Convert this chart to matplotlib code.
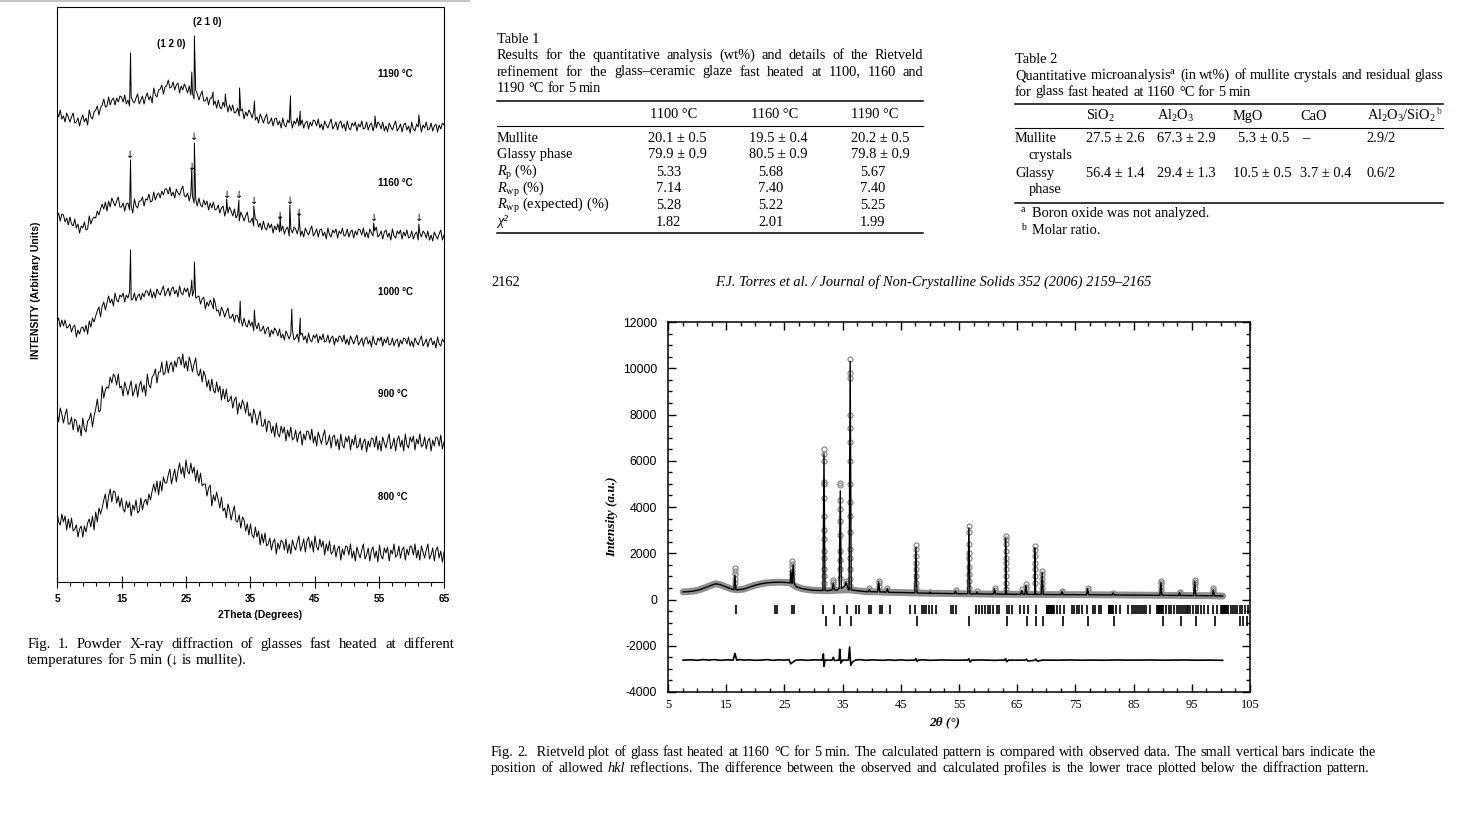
import numpy as np
import matplotlib
matplotlib.use('Agg')
import matplotlib.pyplot as plt
from matplotlib.ticker import FixedLocator, MultipleLocator

plt.rcParams['mathtext.fontset'] = 'custom'
plt.rcParams['mathtext.rm'] = 'Liberation Serif'
plt.rcParams['mathtext.it'] = 'Liberation Serif:italic'
plt.rcParams['mathtext.bf'] = 'Liberation Serif:bold'
plt.rcParams['axes.unicode_minus'] = False

SERIF = ['Liberation Serif', 'DejaVu Serif']
SANS = ['Liberation Sans', 'DejaVu Sans']
FS = 10.4  # body text size

# ---------------- Fig. 1 : XRD patterns (height above axis, arbitrary units) ----
# one row = 5 degrees, step 0.25 deg
theta1 = np.arange(5, 65.001, 0.25)
trace_1190 = [
    470, 465, 472, 463, 466, 460, 469, 465, 460, 465, 469, 459, 460, 464, 456, 463, 467, 460, 464, 457,
    472, 465, 463, 470, 472, 476, 467, 474, 477, 483, 475, 476, 485, 477, 482, 484, 477, 484, 480, 486,
    485, 480, 487, 478, 482, 476, 485, 481, 479, 484, 488, 478, 482, 486, 478, 485, 489, 482, 486, 479,
    494, 487, 485, 492, 493, 497, 488, 495, 496, 502, 494, 495, 500, 492, 497, 499, 489, 496, 492, 498,
    494, 489, 496, 487, 489, 483, 492, 488, 482, 487, 491, 481, 481, 485, 477, 484, 484, 477, 481, 474,
    482, 475, 473, 480, 475, 479, 470, 477, 471, 477, 469, 470, 474, 466, 471, 473, 463, 470, 466, 472,
    469, 464, 471, 462, 465, 459, 468, 464, 459, 464, 468, 458, 460, 464, 456, 463, 464, 457, 461, 454,
    464, 457, 455, 462, 459, 463, 454, 461, 458, 464, 456, 457, 462, 454, 459, 461, 453, 460, 456, 462,
    461, 456, 463, 454, 458, 452, 461, 457, 454, 459, 463, 453, 456, 460, 452, 459, 461, 454, 458, 451,
    461, 454, 452, 459, 456, 460, 451, 458, 455, 461, 453, 454, 460, 452, 457, 459, 451, 458, 454, 460,
    458, 453, 460, 451, 456, 450, 459, 455, 452, 457, 461, 451, 454, 458, 450, 457, 459, 452, 456, 449,
    460, 453, 451, 458, 455, 459, 450, 457, 454, 460, 452, 453, 459, 451, 456, 458, 450, 457, 453, 459,
    457]
trace_1160 = [
    365, 369, 361, 368, 367, 360, 364, 357, 365, 358, 356, 363, 354, 358, 349, 356, 354, 360, 352, 353,
    366, 358, 363, 365, 364, 371, 367, 373, 378, 373, 380, 371, 381, 375, 384, 380, 376, 381, 385, 375,
    375, 379, 371, 378, 379, 372, 376, 369, 383, 376, 374, 381, 381, 385, 376, 383, 382, 388, 380, 381,
    390, 382, 387, 389, 384, 391, 387, 393, 393, 388, 395, 386, 390, 384, 393, 389, 387, 392, 396, 386,
    385, 389, 381, 388, 386, 379, 383, 376, 384, 377, 375, 382, 377, 381, 372, 379, 374, 380, 372, 373,
    377, 369, 374, 376, 366, 373, 369, 375, 371, 366, 373, 364, 367, 361, 370, 366, 361, 366, 370, 360,
    360, 364, 356, 363, 362, 355, 359, 352, 361, 354, 352, 359, 354, 358, 349, 356, 352, 358, 350, 351,
    356, 348, 353, 355, 346, 353, 349, 355, 353, 348, 355, 346, 351, 345, 354, 350, 347, 352, 356, 346,
    349, 353, 345, 352, 353, 346, 350, 343, 354, 347, 345, 352, 349, 353, 344, 351, 348, 354, 346, 347,
    353, 345, 350, 352, 344, 351, 347, 353, 352, 347, 354, 345, 350, 344, 353, 349, 346, 351, 355, 345,
    347, 351, 343, 350, 352, 345, 349, 342, 353, 346, 344, 351, 348, 352, 343, 350, 346, 352, 344, 345,
    351, 343, 348, 350, 342, 349, 345, 351, 349, 344, 351, 342, 347, 341, 350, 346, 343, 348, 352, 342,
    347]
trace_1000 = [
    260, 264, 255, 262, 256, 262, 254, 255, 258, 250, 255, 257, 245, 252, 248, 254, 255, 250, 257, 248,
    261, 255, 264, 260, 266, 271, 275, 265, 276, 280, 272, 279, 286, 279, 283, 276, 289, 282, 280, 287,
    285, 289, 280, 287, 284, 290, 282, 283, 289, 281, 286, 288, 282, 289, 285, 291, 291, 286, 293, 284,
    290, 284, 293, 289, 287, 292, 296, 286, 290, 294, 286, 293, 295, 288, 292, 285, 296, 289, 287, 294,
    290, 294, 285, 292, 286, 292, 284, 285, 286, 278, 283, 285, 273, 280, 276, 282, 278, 273, 280, 271,
    272, 266, 275, 271, 265, 270, 274, 264, 264, 268, 260, 267, 266, 259, 263, 256, 264, 257, 255, 262,
    256, 260, 251, 258, 253, 259, 251, 252, 256, 248, 253, 255, 245, 252, 248, 254, 251, 246, 253, 244,
    248, 242, 251, 247, 243, 248, 252, 242, 244, 248, 240, 247, 249, 242, 246, 239, 249, 242, 240, 247,
    244, 248, 239, 246, 242, 248, 240, 241, 247, 239, 244, 246, 237, 244, 240, 246, 245, 240, 247, 238,
    243, 237, 246, 242, 238, 243, 247, 237, 240, 244, 236, 243, 245, 238, 242, 235, 246, 239, 237, 244,
    241, 245, 236, 243, 239, 245, 237, 238, 244, 236, 241, 243, 235, 242, 238, 244, 243, 238, 245, 236,
    241, 235, 244, 240, 237, 242, 246, 236, 239, 243, 235, 242, 244, 237, 241, 234, 245, 238, 236, 243,
    240]
trace_900 = [
    170, 160, 174, 168, 159, 167, 173, 158, 158, 165, 152, 163, 161, 150, 157, 146, 164, 153, 150, 161,
    163, 169, 155, 166, 173, 183, 170, 172, 196, 184, 192, 195, 194, 205, 199, 208, 205, 197, 208, 194,
    196, 186, 200, 194, 187, 195, 201, 186, 191, 198, 185, 196, 201, 190, 197, 186, 208, 197, 194, 205,
    207, 213, 199, 210, 210, 220, 207, 209, 221, 209, 217, 220, 210, 221, 215, 224, 225, 217, 228, 214,
    221, 211, 225, 219, 210, 218, 224, 209, 206, 213, 200, 211, 206, 195, 202, 191, 203, 192, 189, 200,
    190, 196, 182, 193, 183, 193, 180, 182, 186, 174, 182, 185, 168, 179, 173, 182, 177, 169, 180, 166,
    169, 159, 173, 167, 157, 165, 171, 156, 156, 163, 150, 161, 160, 149, 156, 145, 159, 148, 145, 156,
    149, 155, 141, 152, 145, 155, 142, 144, 152, 140, 148, 151, 137, 148, 142, 151, 150, 142, 153, 139,
    146, 136, 150, 144, 138, 146, 152, 137, 140, 147, 134, 145, 147, 136, 143, 132, 148, 137, 134, 145,
    140, 146, 132, 143, 137, 147, 134, 136, 144, 132, 140, 143, 130, 141, 135, 144, 143, 135, 146, 132,
    141, 131, 145, 139, 134, 142, 148, 133, 137, 144, 131, 142, 146, 135, 142, 131, 148, 137, 134, 145,
    140, 146, 132, 143, 138, 148, 135, 137, 145, 133, 141, 144, 131, 142, 136, 145, 144, 136, 147, 133,
    140]
trace_800 = [
    71, 60, 57, 68, 60, 66, 52, 63, 54, 64, 51, 53, 57, 45, 53, 56, 45, 56, 50, 59,
    63, 55, 66, 52, 70, 60, 74, 68, 74, 82, 88, 73, 86, 93, 80, 91, 90, 79, 86, 75,
    84, 73, 70, 81, 74, 80, 66, 77, 72, 82, 69, 71, 84, 72, 80, 83, 77, 88, 82, 91,
    98, 90, 101, 87, 101, 91, 105, 99, 99, 107, 113, 98, 106, 113, 100, 111, 119, 108, 115, 104,
    122, 111, 108, 119, 109, 115, 101, 112, 99, 109, 96, 98, 98, 86, 94, 97, 76, 87, 81, 90,
    82, 74, 85, 71, 74, 64, 78, 72, 62, 70, 76, 61, 60, 67, 54, 65, 62, 51, 58, 47,
    58, 47, 44, 55, 45, 51, 37, 48, 39, 49, 36, 38, 44, 32, 40, 43, 28, 39, 33, 42,
    40, 32, 43, 29, 38, 28, 42, 36, 32, 40, 46, 31, 36, 43, 30, 41, 45, 34, 41, 30,
    46, 35, 32, 43, 35, 41, 27, 38, 31, 41, 28, 30, 37, 25, 33, 36, 22, 33, 27, 36,
    35, 27, 38, 24, 31, 21, 35, 29, 24, 32, 38, 23, 27, 34, 21, 32, 35, 24, 31, 20,
    37, 26, 23, 34, 29, 35, 21, 32, 28, 38, 25, 27, 36, 24, 32, 35, 22, 33, 27, 36,
    35, 27, 38, 24, 32, 22, 36, 30, 24, 32, 38, 23, 27, 34, 21, 32, 35, 24, 31, 20,
    30]

peaks_1190_pos = [16.4, 25.9, 26.3, 29.2, 31.1, 33.3, 35.6, 41.2, 42.7, 54.3, 61.1]
peaks_1190_top = [529, 510, 546, 490, 488, 494, 481, 486, 471, 466, 467]
peaks_1160_pos = [16.4, 25.9, 26.3, 31.3, 33.2, 35.5, 39.6, 41.1, 42.5, 54.1, 61.1]
peaks_1160_top = [422, 414, 439, 383, 382, 376, 366, 377, 369, 359, 358]
peaks_1000_pos = [16.4, 25.9, 26.3, 29.3, 33.4, 35.6, 41.4, 42.7]
peaks_1000_top = [332, 302, 320, 284, 281, 272, 273, 264]

arrows_1160_pos = [16.4, 25.9, 26.3, 31.3, 33.2, 35.5, 39.6, 41.1, 42.5, 54.1, 61.1]
arrows_1160_y = [427, 415, 445, 387, 387, 381, 366, 381, 369, 364, 364]

temp_labels = ['1190 °C', '1160 °C', '1000 °C', '900 °C', '800 °C']

# ---------------- Fig. 2 : Rietveld plot -----------------------------------
riet_bg_x = [7.6, 8.5, 9.5, 10.5, 11.5, 12.5, 13.2, 14.0, 15.0, 16.0, 17.0, 18.0, 19.0,
             20.0, 21.0, 22.0, 23.0, 24.0, 25.0, 26.0, 27.0, 28.0, 29.0, 30.0, 31.0,
             32.5, 34.0, 36.0, 37.5, 39.0, 41.0, 43.0, 45.0, 48.0, 50.0, 53.0, 55.0,
             58.0, 60.0, 63.0, 65.0, 68.0, 70.0, 73.0, 75.0, 78.0, 80.0, 83.0, 85.0,
             88.0, 90.0, 93.0, 95.0, 98.0, 100.3]
riet_bg_y = [330, 340, 370, 430, 520, 620, 680, 640, 540, 450, 420, 450, 540,
             620, 680, 720, 740, 750, 740, 720, 560, 470, 430, 400, 390,
             380, 400, 420, 380, 340, 330, 310, 300, 280, 270, 260, 250,
             240, 235, 230, 225, 220, 215, 210, 210, 205, 200, 195, 190,
             185, 180, 175, 170, 165, 150]

riet_pk_pos = [16.5, 26.1, 26.5, 31.8, 33.4, 34.6, 35.6, 36.3, 39.6, 41.2, 42.7, 47.6,
               50.0, 54.4, 56.7, 58.1, 61.1, 63.0, 65.8, 66.5, 68.0, 69.3, 72.7, 77.1,
               81.5, 89.7, 92.9, 95.5, 98.7]
riet_pk_base = [420, 720, 700, 390, 420, 480, 600, 420, 340, 330, 320, 290,
                270, 255, 248, 245, 238, 232, 228, 225, 222, 220, 212, 205,
                197, 182, 176, 170, 160]
riet_pk_calc = [1050, 1250, 1500, 6300, 700, 4700, 750, 10300, 420, 760, 460, 2250,
                320, 360, 3100, 330, 460, 2650, 400, 600, 2250, 1150, 340, 470,
                280, 740, 300, 780, 420]
obs_peak_points = {
    16.5: [1380, 1250, 1100, 900, 700],
    26.3: [1650, 1550, 1400, 1250, 1100, 900],
    31.8: [6500, 6300, 6000, 5100, 5000, 4400, 3600, 3000, 2600, 2100, 1800, 1300, 1000, 700],
    33.4: [850, 750, 650],
    34.6: [5050, 4950, 4300, 3900, 3400, 2800, 2100, 1700, 1300, 950],
    35.6: [800, 700],
    36.3: [10400, 9800, 9600, 8000, 7400, 6800, 6000, 5000, 4200, 3600, 2900, 2200,
           1800, 1300, 900, 600],
    39.6: [480, 420],
    41.2: [800, 720, 600],
    42.7: [500, 420],
    47.6: [2350, 2200, 1900, 1600, 1300, 1000, 700, 500],
    50.0: [330],
    54.4: [400, 330],
    56.7: [3200, 2900, 2400, 2000, 1800, 1400, 1100, 800, 500],
    58.1: [350],
    61.1: [480, 400],
    63.0: [2750, 2600, 2400, 2100, 1800, 1600, 1300, 1000, 700, 450],
    65.8: [440],
    66.5: [650, 550, 450],
    68.0: [2300, 2150, 1900, 1600, 1300, 1000, 700],
    69.3: [1250, 1100, 900, 700, 500],
    72.7: [380, 330],
    77.1: [500, 420],
    81.5: [300],
    89.7: [800, 700, 550, 400],
    92.9: [330, 280],
    95.5: [850, 750, 650, 500],
    98.7: [480, 400, 330],
}

hkl_row1 = [16.7, 23.4, 23.8, 26.3, 26.6, 31.6, 33.5, 35.8, 37.3, 37.9, 39.6, 39.8,
            41.4, 41.7, 43.1, 46.6, 47.4, 48.6, 49.0, 49.4, 49.9, 50.3, 51.0,
            53.6, 54.0, 54.4, 57.9, 58.5, 58.9, 59.5, 59.9, 60.3, 60.9, 61.5, 61.9,
            63.2, 63.6, 64.1, 65.5, 66.1, 66.9, 68.2,
            70.1, 70.2, 70.35, 70.5, 70.6, 70.75, 70.9, 71.0, 71.15, 71.3,
            71.9, 72.4, 73.1, 74.4, 74.8, 75.2, 75.7, 76.1, 77.0, 78.0, 78.4, 79.0, 79.4,
            80.7, 80.85, 81.0, 81.15, 81.3, 81.5, 81.9, 82.7,
            84.1, 84.7, 85.1, 85.4, 85.8, 86.1, 86.5, 86.8, 87.2, 87.8,
            89.0, 89.15, 89.3, 89.45, 89.6, 89.75, 89.9, 90.1,
            90.5, 91.0, 91.5, 91.9, 92.4, 92.8, 93.1, 93.5, 93.8, 94.1, 94.4, 94.7,
            95.2, 95.7, 96.1, 96.6, 97.1, 97.7, 98.7, 99.4,
            100.1, 100.25, 100.4, 100.55, 100.7, 100.85, 101.0,
            101.3, 101.7, 102.0, 102.4, 102.8, 103.3, 103.7, 104.1, 104.7]
hkl_row2 = [32.1, 34.6, 36.5, 47.8, 56.7, 63.2, 66.6, 68.2, 69.4, 72.9, 77.2, 81.7,
            90.0, 93.1, 95.7, 99.0, 103.3, 103.8, 104.4]

diff_x = [7.6, 9, 10, 11, 12, 13, 14, 15, 16.2, 16.5, 16.8, 17.5, 18, 19, 20, 21, 22, 23,
          24, 25, 25.8, 26.1, 26.5, 27, 28, 29, 30, 31.5, 31.7, 31.8, 32.0, 33.2, 33.4,
          33.6, 34.4, 34.5, 34.7, 35.0, 36.0, 36.2, 36.4, 36.7, 37.2, 38, 39, 40, 41, 42,
          43, 44, 45, 46, 47.4, 47.6, 47.8, 48, 49, 50, 52, 54, 56.5, 56.7, 56.9, 57.2,
          59, 61, 62.8, 63.0, 63.2, 63.5, 65, 66.4, 66.6, 66.8, 68, 68.2, 68.5, 69.3, 70,
          72, 74, 76, 78, 80, 82, 84, 86, 88, 90, 92, 94, 96, 98, 100.3]
diff_y = [-2620, -2610, -2630, -2600, -2620, -2600, -2630, -2610, -2620, -2330, -2620,
          -2600, -2620, -2610, -2630, -2620, -2600, -2630, -2610, -2620, -2600, -2780,
          -2700, -2620, -2610, -2630, -2610, -2620, -2350, -2900, -2620, -2620, -2500,
          -2640, -2620, -2150, -2750, -2620, -2620, -2050, -2850, -2700, -2620, -2600,
          -2630, -2610, -2620, -2630, -2610, -2630, -2610, -2630, -2620, -2560, -2680,
          -2620, -2610, -2630, -2615, -2625, -2620, -2560, -2700, -2620, -2615, -2630,
          -2620, -2560, -2690, -2620, -2625, -2620, -2580, -2660, -2630, -2580, -2670,
          -2620, -2620, -2625, -2615, -2625, -2620, -2625, -2615, -2620, -2620, -2615,
          -2625, -2620, -2615, -2625, -2620, -2630]

# ---------------- Tables ------------------------------------------------------
t1_cols = ['1100 °C', '1160 °C', '1190 °C']
t1_rows = ['Mullite', 'Glassy phase', r'$R_{\rm p}$ (%)', r'$R_{\rm wp}$ (%)',
           r'$R_{\rm wp}$ (expected) (%)', 'χ²']
t1_vals = [['20.1 ± 0.5', '19.5 ± 0.4', '20.2 ± 0.5'],
           ['79.9 ± 0.9', '80.5 ± 0.9', '79.8 ± 0.9'],
           ['5.33', '5.68', '5.67'],
           ['7.14', '7.40', '7.40'],
           ['5.28', '5.22', '5.25'],
           ['1.82', '2.01', '1.99']]
t2_cols = ['SiO$_2$', 'Al$_2$O$_3$', 'MgO', 'CaO', 'Al$_2$O$_3$/SiO$_2$']
t2_rows = [('Mullite', 'crystals'), ('Glassy', 'phase')]
t2_vals = [['27.5 ± 2.6', '67.3 ± 2.9', '5.3 ± 0.5', '–', '2.9/2'],
           ['56.4 ± 1.4', '29.4 ± 1.3', '10.5 ± 0.5', '3.7 ± 0.4', '0.6/2']]

fig = plt.figure(figsize=(14.6, 8.18), dpi=100)
page = fig.add_axes([0, 0, 1, 1])
page.set_xlim(0, 1460)
page.set_ylim(818, 0)
page.axis('off')
rend = fig.canvas.get_renderer()


def line_of(words, x0, y, x1=None, size=FS, color='k'):
    """place words on a baseline, stretched to x1 when given"""
    objs = []
    for w in words:
        txt, st = (w if isinstance(w, tuple) else (w, 'normal'))
        objs.append(page.text(x0, y, txt, fontsize=size, family=SERIF, style=st,
                              va='baseline', ha='left', color=color))
    widths = [o.get_window_extent(rend).width for o in objs]
    if x1 is None or len(objs) < 2:
        gap = 0.25 * size * 100 / 72
    else:
        gap = (x1 - x0 - sum(widths)) / (len(objs) - 1)
    x = x0
    for o, w in zip(objs, widths):
        o.set_x(x)
        x += w + gap


# top grey strip
page.fill_between([0, 470], 0, 2.2, color='#c4c4c4', lw=0)

# ---------------- Fig. 1 axes ----------------
ax1 = fig.add_axes([57 / 1460, 1 - 582 / 818, 387 / 1460, 575 / 818])
ax1.patch.set_visible(False)
traces = [(trace_1190, peaks_1190_pos, peaks_1190_top),
          (trace_1160, peaks_1160_pos, peaks_1160_top),
          (trace_1000, peaks_1000_pos, peaks_1000_top),
          (trace_900, [], []),
          (trace_800, [], [])]
for vals, ppos, ptop in traces:
    x = np.concatenate([theta1, ppos])
    y = np.concatenate([vals, ptop])
    o = np.argsort(x, kind='stable')
    ax1.plot(x[o], y[o], color='black', lw=0.7)
for p, h in zip(arrows_1160_pos, arrows_1160_y):
    ax1.text(p, h, '↓', fontsize=7, family=['DejaVu Sans'], ha='center', va='center')
ax1.set_xlim(5, 65)
ax1.set_ylim(0, 575)
ax1.set_yticks([])
ax1.set_xticks(range(5, 66, 10))
ax1.xaxis.set_minor_locator(FixedLocator(np.arange(7, 64, 2)))
ax1.tick_params(axis='x', which='major', direction='inout', length=8.5, width=0.8, pad=4.5)
ax1.tick_params(axis='x', which='minor', direction='out', length=3.2, width=0.8)
for lab in ax1.get_xticklabels():
    lab.set_fontfamily(SANS)
    lab.set_fontweight('bold')
    lab.set_fontsize(7.2)
for s in ax1.spines.values():
    s.set_linewidth(0.8)

label_y = [74, 183, 292, 394, 497]
for t, yy in zip(temp_labels, label_y):
    page.text(378, yy, t, fontsize=7, family=SANS, weight='bold', va='center', ha='left')
page.text(207, 22, '(2 1 0)', fontsize=7, family=SANS, weight='bold', ha='center', va='center')
page.text(171, 44, '(1 2 0)', fontsize=7, family=SANS, weight='bold', ha='center', va='center')
page.text(260, 615, '2Theta (Degrees)', fontsize=7.5, family=SANS, weight='bold',
          ha='center', va='center')
page.text(36, 290, 'INTENSITY (Arbitrary Units)', fontsize=7.5, family=SANS, weight='bold',
          ha='center', va='center', rotation=90)

line_of('Fig. 1. Powder X-ray diffraction of glasses fast heated at different'.split(),
        27.3, 647.7, 454, size=10.6)
line_of('temperatures for 5 min (↓ is mullite).'.split(), 27.3, 664.3, size=10.6)

# ---------------- Fig. 2 axes ----------------
ax2 = fig.add_axes([668 / 1460, 1 - 692 / 818, 582 / 1460, 370 / 818])
ax2.patch.set_visible(False)
cx = list(riet_bg_x)
cy = list(riet_bg_y)
for p, b, c in zip(riet_pk_pos, riet_pk_base, riet_pk_calc):
    cx += [p - 0.18, p, p + 0.18]
    cy += [b, c, b]
cx = np.array(cx)
cy = np.array(cy)
o = np.argsort(cx, kind='stable')
ax2.plot(riet_bg_x, riet_bg_y, color='#8f8f8f', lw=5, solid_capstyle='round', zorder=1)
for p, ys in obs_peak_points.items():
    ax2.plot([p] * len(ys), ys, 'o', ms=3.6, mfc='none', mec='#8a8a8a', mew=0.9, zorder=2)
ax2.plot(cx[o], cy[o], color='black', lw=1.0, zorder=3)
ax2.vlines(hkl_row1, -645, -245, color='black', lw=1.2)
ax2.vlines(hkl_row2, -1140, -720, color='black', lw=1.2)
ax2.plot(diff_x, diff_y, color='black', lw=1.2)
ax2.set_xlim(5, 105)
ax2.set_ylim(-4000, 12000)
ax2.set_xticks(range(5, 106, 10))
ax2.set_yticks(range(-4000, 12001, 2000))
ax2.xaxis.set_minor_locator(MultipleLocator(2.5))
ax2.yaxis.set_minor_locator(MultipleLocator(500))
ax2.tick_params(which='both', direction='in', top=True, right=True, width=1.0)
ax2.tick_params(which='major', length=5.5)
ax2.tick_params(which='minor', length=3)
ax2.tick_params(axis='y', pad=8)
ax2.tick_params(axis='x', pad=5)
for lab in ax2.get_yticklabels():
    lab.set_fontfamily(['Liberation Sans Narrow', 'Liberation Sans', 'DejaVu Sans'])
    lab.set_fontsize(8.8)
for lab in ax2.get_xticklabels():
    lab.set_fontfamily(SERIF)
    lab.set_fontsize(9)
for s in ax2.spines.values():
    s.set_linewidth(1.1)
page.text(612, 517, 'Intensity (a.u.)', fontsize=9.5, family=SERIF, weight='bold',
          style='italic', rotation=90, ha='center', va='center')
page.text(945, 722, '2θ (°)', fontsize=9.5, family=SERIF, weight='bold',
          style='italic', ha='center', va='center')

line_of(['Fig.', '2.', ' Rietveld'] + 'plot of glass fast heated at 1160 °C for 5 min. The calculated '
        'pattern is compared with observed data. The small vertical bars indicate the'.split(),
        491, 756, 1376, size=10.3)
line_of(['position', 'of', 'allowed', ('hkl', 'italic')] +
        'reflections. The difference between the observed and calculated profiles is the '
        'lower trace plotted below the diffraction pattern.'.split(),
        491, 772, 1370, size=10.3)

# ---------------- page header ----------------
page.text(491, 286, '2162', fontsize=FS, family=SERIF, va='baseline')
page.text(933.5, 286, 'F.J. Torres et al. / Journal of Non-Crystalline Solids 352 (2006) 2159–2165',
          fontsize=FS, family=SERIF, style='italic', va='baseline', ha='center')

# ---------------- Table 1 ----------------
page.text(496.7, 43, 'Table 1', fontsize=FS, family=SERIF, va='baseline')
line_of('Results for the quantitative analysis (wt%) and details of the Rietveld'.split(),
        496.7, 59, 923.3)
line_of('refinement for the glass–ceramic glaze fast heated at 1100, 1160 and'.split(),
        496.7, 75.5, 923.3)
line_of('1190 °C for 5 min'.split(), 496.7, 91.5)
for yy, lw in [(101, 1.1), (126, 0.8), (233, 1.1)]:
    page.plot([496.7, 923.3], [yy, yy], color='black', lw=lw)
t1_xhead = [650, 751, 851]
t1_xpm = [648, 749, 851]
t1_xnum = [656, 758, 860]
t1_rowy = [141.5, 158, 175.5, 192.5, 209, 225.5]
for c, xx in zip(t1_cols, t1_xhead):
    page.text(xx, 117.5, c, fontsize=FS, family=SERIF, va='baseline')
for i, (r, yy) in enumerate(zip(t1_rows, t1_rowy)):
    page.text(496.7, yy, r, fontsize=FS, family=SERIF, va='baseline',
              style='italic' if r.startswith('χ') else 'normal')
    for j, v in enumerate(t1_vals[i]):
        xx = t1_xpm[j] if '±' in v else t1_xnum[j]
        page.text(xx, yy, v, fontsize=FS, family=SERIF, va='baseline')

# ---------------- Table 2 ----------------
page.text(1015, 62.7, 'Table 2', fontsize=FS, family=SERIF, va='baseline')
line_of(['Quantitative', 'microanalysis$^{\\rm a}$'] +
        '(in wt%) of mullite crystals and residual glass'.split(), 1015, 79, 1443.3)
line_of('for glass fast heated at 1160 °C for 5 min'.split(), 1015, 95.5)
for yy, lw in [(103.5, 1.1), (127.7, 0.8), (202.7, 1.1)]:
    page.plot([1015, 1443.3], [yy, yy], color='black', lw=lw)
t2_x = [1086, 1156.7, 1232.7, 1300, 1366.7]
t2_xval = [[1086, 1156.7, 1238.3, 1301.7, 1366.7],
           [1086, 1156.7, 1232.7, 1300, 1366.7]]
for c, xx in zip(t2_cols, t2_x):
    hd = page.text(xx, 120, c, fontsize=FS, family=SERIF, va='baseline')
last_w = hd.get_window_extent(rend).width
page.text(t2_x[-1] + last_w + 0.5, 114, 'b', fontsize=7, family=SERIF, va='baseline',
          color='#1f3fa8')
t2_rowy = [(142.3, 159), (176.7, 193.3)]
for i, ((a, b), (y1, y2)) in enumerate(zip(t2_rows, t2_rowy)):
    page.text(1015, y1, a, fontsize=FS, family=SERIF, va='baseline')
    page.text(1028.3, y2, b, fontsize=FS, family=SERIF, va='baseline')
    for v, xx in zip(t2_vals[i], t2_xval[i]):
        page.text(xx, y1, v, fontsize=FS, family=SERIF, va='baseline')
page.text(1021, 212.5, 'a', fontsize=7, family=SERIF, va='baseline')
page.text(1032, 216.7, 'Boron oxide was not analyzed.', fontsize=FS, family=SERIF, va='baseline')
page.text(1021, 230, 'b', fontsize=7, family=SERIF, va='baseline')
page.text(1032, 234.3, 'Molar ratio.', fontsize=FS, family=SERIF, va='baseline')

fig.savefig('out.png', dpi=100)
